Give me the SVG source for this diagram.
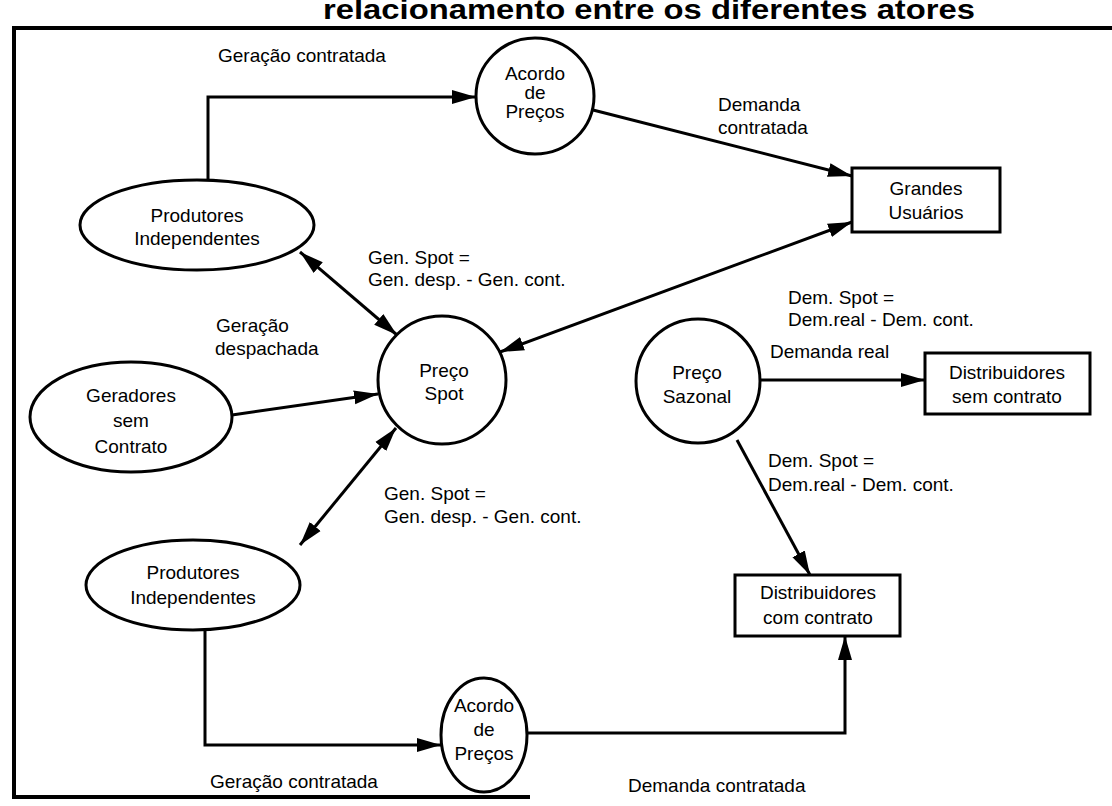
<svg xmlns="http://www.w3.org/2000/svg" width="1112" height="806" viewBox="0 0 1112 806">
<style>
text{font-family:"Liberation Sans",Arial,sans-serif;font-size:19px;fill:#000}
.c{text-anchor:middle}
.n{fill:#fff;stroke:#000;stroke-width:3}
.e{fill:none;stroke:#000;stroke-width:3}
.f{fill:none;stroke:#000;stroke-width:4}
.t{font-weight:bold;font-size:28px}
</style>
<defs>
<marker id="ah" markerUnits="userSpaceOnUse" markerWidth="26" markerHeight="16" refX="24" refY="8" orient="auto-start-reverse">
<path d="M0,1 L24,8 L0,15 Z" fill="#000"/>
</marker>
</defs>
<rect width="1112" height="806" fill="#fff"/>
<text class="t" x="323" y="19" textLength="652" lengthAdjust="spacingAndGlyphs">relacionamento entre os diferentes atores</text>
<g id="frame">
<path class="f" d="M12,28 H1112 M14,28 V797 M12,797 H530"/>
</g>
<g id="connectors">
<path class="e" d="M208,180 V97 H476" marker-end="url(#ah)"/>
<path class="e" d="M593,110 L852,176" marker-end="url(#ah)"/>
<path class="e" d="M300,252 L397,335" marker-start="url(#ah)" marker-end="url(#ah)"/>
<path class="e" d="M852,222 L500,352" marker-start="url(#ah)" marker-end="url(#ah)"/>
<path class="e" d="M232,415 L378,394" marker-end="url(#ah)"/>
<path class="e" d="M396,428 L300,545" marker-start="url(#ah)" marker-end="url(#ah)"/>
<path class="e" d="M760,380 H925" marker-end="url(#ah)"/>
<path class="e" d="M737,440 L810,575" marker-end="url(#ah)"/>
<path class="e" d="M205,630 V745 H441" marker-end="url(#ah)"/>
<path class="e" d="M527,733 H845 V636" marker-end="url(#ah)"/>
<text x="218" y="62">Geração contratada</text>
<text x="718" y="111">Demanda</text>
<text x="718" y="134">contratada</text>
<text x="368" y="264">Gen. Spot =</text>
<text x="368" y="286">Gen. desp. - Gen. cont.</text>
<text x="216" y="332">Geração</text>
<text x="215" y="355">despachada</text>
<text x="788" y="304">Dem. Spot =</text>
<text x="788" y="326">Dem.real - Dem. cont.</text>
<text x="770" y="358">Demanda real</text>
<text x="768" y="467">Dem. Spot =</text>
<text x="768" y="491">Dem.real - Dem. cont.</text>
<text x="384" y="500">Gen. Spot =</text>
<text x="384" y="523">Gen. desp. - Gen. cont.</text>
<text x="210" y="788">Geração contratada</text>
<text x="628" y="792">Demanda contratada</text>
</g>
<g id="acordo-top">
<ellipse class="n" cx="535" cy="96" rx="59" ry="58"/>
<text class="c" x="535" y="80">Acordo</text>
<text class="c" x="535" y="99">de</text>
<text class="c" x="535" y="118">Preços</text>
</g>
<g id="produtores-top">
<ellipse class="n" cx="197" cy="225" rx="117" ry="45"/>
<text class="c" x="197" y="222">Produtores</text>
<text class="c" x="197" y="245">Independentes</text>
</g>
<g id="grandes-usuarios">
<rect class="n" x="852" y="168" width="148" height="64"/>
<text class="c" x="926" y="195">Grandes</text>
<text class="c" x="926" y="219">Usuários</text>
</g>
<g id="preco-spot">
<circle class="n" cx="442" cy="380" r="64"/>
<text class="c" x="444" y="377">Preço</text>
<text class="c" x="444" y="400">Spot</text>
</g>
<g id="geradores">
<ellipse class="n" cx="131" cy="417" rx="101" ry="55"/>
<text class="c" x="131" y="402">Geradores</text>
<text class="c" x="131" y="427">sem</text>
<text class="c" x="131" y="453">Contrato</text>
</g>
<g id="preco-sazonal">
<circle class="n" cx="698" cy="381" r="62"/>
<text class="c" x="697" y="379">Preço</text>
<text class="c" x="697" y="403">Sazonal</text>
</g>
<g id="dist-sem">
<rect class="n" x="925" y="353" width="165" height="61"/>
<text class="c" x="1007" y="379">Distribuidores</text>
<text class="c" x="1007" y="403">sem contrato</text>
</g>
<g id="dist-com">
<rect class="n" x="735" y="575" width="165" height="61"/>
<text class="c" x="818" y="599">Distribuidores</text>
<text class="c" x="818" y="624">com contrato</text>
</g>
<g id="produtores-bottom">
<ellipse class="n" cx="193" cy="585" rx="107" ry="45"/>
<text class="c" x="193" y="579">Produtores</text>
<text class="c" x="193" y="604">Independentes</text>
</g>
<g id="acordo-bottom">
<ellipse class="n" cx="484" cy="735" rx="43" ry="57"/>
<text class="c" x="484" y="712">Acordo</text>
<text class="c" x="484" y="736">de</text>
<text class="c" x="484" y="760">Preços</text>
</g>
</svg>
